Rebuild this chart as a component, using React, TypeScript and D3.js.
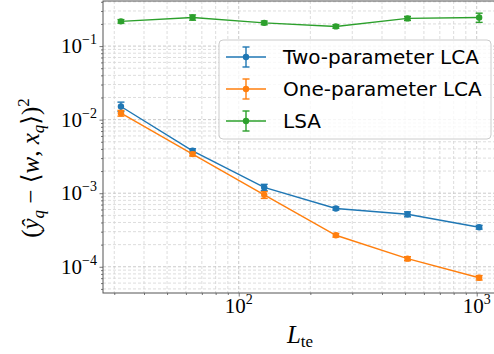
import React, { useEffect, useRef } from 'react'
import * as d3 from 'd3'

const lengths = [32, 64, 128, 256, 512, 1024]
const twoParam = [0.0151, 0.00377, 0.0012, 0.00062, 0.000518, 0.000345]
const twoParamErr = [0.0022, 0.00025, 0.00012, 0.00003, 0.00004, 0.00002]
const oneParam = [0.01225, 0.0034, 0.00095, 0.000268, 0.000129, 0.000071]
const oneParamErr = [0.0011, 0.0002, 0.0001, 0.000015, 0.000008, 0.000005]
const lsa = [0.217, 0.245, 0.207, 0.185, 0.238, 0.245]
const lsaErr = [0.012, 0.02, 0.012, 0.01, 0.015, 0.035]
const seriesNames = ['Two-parameter LCA', 'One-parameter LCA', 'LSA']
const seriesColors = ['#1f77b4', '#ff7f0e', '#2ca02c']
const xMajorTicks = [100, 1000]
const xTickExps = ['2', '3']
const yMajorTicks = [1e-1, 1e-2, 1e-3, 1e-4]
const yTickExps = ['\u22121', '\u22122', '\u22123', '\u22124']

export default function App() {
  const ref = useRef<SVGSVGElement | null>(null)

  useEffect(() => {
    if (!ref.current) return
    const svg = d3.select(ref.current)
    svg.selectAll('*').remove()

    const left = 103, right = 497, top = 1, bottom = 293
    const x = d3.scaleLog().domain([26.9, 1217]).range([left, right])
    const y = d3.scaleLog().domain([4.4e-5, 0.41]).range([bottom, top])

    const xMinor: number[] = []
    for (const dec of [10, 100, 1000]) for (let k = 2; k <= 9; k++) {
      const v = dec * k
      if (v > 26.9 && v < 1217 && !xMajorTicks.includes(v)) xMinor.push(v)
    }
    const yMinor: number[] = []
    for (const dec of [1e-5, 1e-4, 1e-3, 1e-2, 1e-1]) for (let k = 2; k <= 9; k++) {
      const v = dec * k
      if (v > 4.4e-5 && v < 0.41) yMinor.push(v)
    }

    svg.append('rect').attr('width', 494).attr('height', 354).attr('fill', '#fff')

    // grid
    const grid = svg.append('g')
    grid.selectAll('.gxm').data(xMinor).enter().append('line')
      .attr('x1', d => x(d)).attr('x2', d => x(d)).attr('y1', top).attr('y2', bottom)
      .attr('stroke', '#d4d4d4').attr('stroke-width', 0.8).attr('stroke-dasharray', '3,2')
    grid.selectAll('.gym').data(yMinor).enter().append('line')
      .attr('y1', d => y(d)).attr('y2', d => y(d)).attr('x1', left).attr('x2', right)
      .attr('stroke', '#d4d4d4').attr('stroke-width', 0.8).attr('stroke-dasharray', '3,2')
    grid.selectAll('.gx').data(xMajorTicks).enter().append('line')
      .attr('x1', d => x(d)).attr('x2', d => x(d)).attr('y1', top).attr('y2', bottom)
      .attr('stroke', '#bdbdbd').attr('stroke-width', 0.8).attr('stroke-dasharray', '3,2')
    grid.selectAll('.gy').data(yMajorTicks).enter().append('line')
      .attr('y1', d => y(d)).attr('y2', d => y(d)).attr('x1', left).attr('x2', right)
      .attr('stroke', '#bdbdbd').attr('stroke-width', 0.8).attr('stroke-dasharray', '3,2')

    // axes
    const axisColor = '#555'
    const styleAxis = (g: any) => {
      g.select('.domain').remove()
      g.selectAll('line').attr('stroke', axisColor).attr('stroke-width', 0.8)
    }
    svg.append('g').attr('transform', `translate(0,${bottom})`)
      .call(d3.axisBottom(x).tickValues(xMajorTicks).tickSize(3.5).tickFormat(() => '')).call(styleAxis)
    svg.append('g').attr('transform', `translate(0,${bottom})`)
      .call(d3.axisBottom(x).tickValues(xMinor).tickSize(2).tickFormat(() => '')).call(styleAxis)
    svg.append('g').attr('transform', `translate(${left},0)`)
      .call(d3.axisLeft(y).tickValues(yMajorTicks).tickSize(3.5).tickFormat(() => '')).call(styleAxis)
    svg.append('g').attr('transform', `translate(${left},0)`)
      .call(d3.axisLeft(y).tickValues(yMinor).tickSize(2).tickFormat(() => '')).call(styleAxis)

    // spines
    svg.append('rect').attr('x', left).attr('y', top).attr('width', right - left).attr('height', bottom - top)
      .attr('fill', 'none').attr('stroke', axisColor).attr('stroke-width', 1)

    const serif = 'Liberation Serif, DejaVu Serif, serif'
    // tick labels
    xMajorTicks.forEach((v, i) => {
      const t = svg.append('text').attr('x', x(v)).attr('y', 313).attr('text-anchor', 'middle')
        .attr('font-family', serif).attr('font-size', 21).attr('fill', '#000')
      t.append('tspan').text('10')
      t.append('tspan').attr('font-size', 14).attr('dy', -9).text(xTickExps[i])
    })
    yMajorTicks.forEach((v, i) => {
      const t = svg.append('text').attr('x', 97).attr('y', y(v) + 7).attr('text-anchor', 'end')
        .attr('font-family', serif).attr('font-size', 21).attr('fill', '#000')
      t.append('tspan').text('10')
      t.append('tspan').attr('font-size', 14).attr('dy', -9).text(yTickExps[i])
    })

    // axis labels
    const xl = svg.append('text').attr('x', 300).attr('y', 343).attr('text-anchor', 'middle')
      .attr('font-family', serif).attr('font-size', 25).attr('fill', '#000')
    xl.append('tspan').attr('font-style', 'italic').text('L')
    xl.append('tspan').attr('font-size', 17).attr('dy', 4).text('te')

    const yl = svg.append('text').attr('transform', 'translate(39,168) rotate(-90)').attr('text-anchor', 'middle')
      .attr('font-family', serif).attr('font-size', 25).attr('fill', '#000')
    yl.append('tspan').text('(')
    yl.append('tspan').attr('font-style', 'italic').text('\u0177')
    yl.append('tspan').attr('font-style', 'italic').attr('font-size', 17).attr('dy', 5).text('q')
    yl.append('tspan').attr('dy', -5).text(' \u2212 \u27E8')
    yl.append('tspan').attr('font-style', 'italic').text('w')
    yl.append('tspan').text(', ')
    yl.append('tspan').attr('font-style', 'italic').text('x')
    yl.append('tspan').attr('font-style', 'italic').attr('font-size', 17).attr('dy', 5).text('q')
    yl.append('tspan').attr('dy', -5).text('\u27E9)')
    yl.append('tspan').attr('font-size', 17).attr('dy', -10).text('2')

    // series
    const series = [
      { vals: twoParam, errs: twoParamErr },
      { vals: oneParam, errs: oneParamErr },
      { vals: lsa, errs: lsaErr },
    ]
    const line = d3.line<number>().x((_, i) => x(lengths[i])).y(d => y(d))
    const plot = svg.append('g')
    series.forEach((s, si) => {
      const c = seriesColors[si]
      const g = plot.append('g')
      g.append('path').attr('d', line(s.vals)!).attr('fill', 'none').attr('stroke', c).attr('stroke-width', 1.4)
      s.vals.forEach((v, i) => {
        const cx = x(lengths[i])
        const y1 = y(v + s.errs[i]), y2 = y(Math.max(v - s.errs[i], 1e-9))
        g.append('line').attr('x1', cx).attr('x2', cx).attr('y1', y1).attr('y2', y2).attr('stroke', c).attr('stroke-width', 1.4)
        g.append('line').attr('x1', cx - 3.5).attr('x2', cx + 3.5).attr('y1', y1).attr('y2', y1).attr('stroke', c).attr('stroke-width', 1.4)
        g.append('line').attr('x1', cx - 3.5).attr('x2', cx + 3.5).attr('y1', y2).attr('y2', y2).attr('stroke', c).attr('stroke-width', 1.4)
        g.append('circle').attr('cx', cx).attr('cy', y(v)).attr('r', 3.2).attr('fill', c)
      })
    })

    // legend
    const lg = svg.append('g')
    lg.append('rect').attr('x', 219).attr('y', 40).attr('width', 272).attr('height', 99).attr('rx', 4)
      .attr('fill', 'rgba(255,255,255,0.8)').attr('stroke', '#ccc').attr('stroke-width', 1)
    seriesNames.forEach((name, i) => {
      const cy = 57 + i * 32
      const c = seriesColors[i]
      lg.append('line').attr('x1', 226).attr('x2', 266).attr('y1', cy).attr('y2', cy).attr('stroke', c).attr('stroke-width', 1.4)
      lg.append('line').attr('x1', 246).attr('x2', 246).attr('y1', cy - 10).attr('y2', cy + 10).attr('stroke', c).attr('stroke-width', 1.4)
      lg.append('line').attr('x1', 242.5).attr('x2', 249.5).attr('y1', cy - 10).attr('y2', cy - 10).attr('stroke', c).attr('stroke-width', 1.4)
      lg.append('line').attr('x1', 242.5).attr('x2', 249.5).attr('y1', cy + 10).attr('y2', cy + 10).attr('stroke', c).attr('stroke-width', 1.4)
      lg.append('circle').attr('cx', 246).attr('cy', cy).attr('r', 3.2).attr('fill', c)
      lg.append('text').attr('x', 283).attr('y', cy + 7).attr('font-family', 'DejaVu Sans, sans-serif')
        .attr('font-size', 20).attr('fill', '#000').text(name)
    })
  }, [])

  return <svg ref={ref} width={494} height={354} style={{ position: 'absolute', left: 0, top: 0 }} />
}
